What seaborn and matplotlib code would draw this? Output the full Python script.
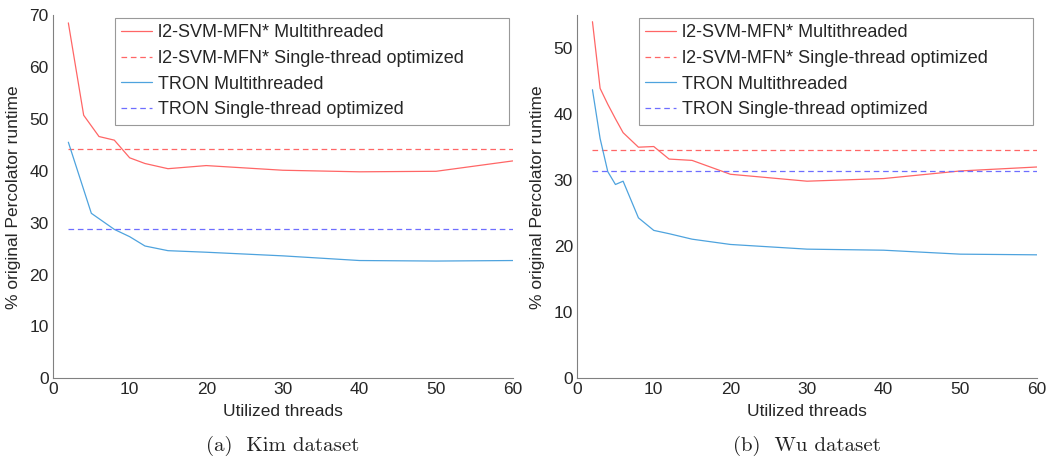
import numpy as np
import pandas as pd
import matplotlib
matplotlib.use("Agg")
import matplotlib.pyplot as plt
import seaborn as sns

# Kim dataset
kim_l2_threads = [2, 4, 6, 8, 10, 12, 15, 20, 30, 40, 50, 60]
kim_l2_runtime = [68.5, 50.7, 46.6, 45.9, 42.5, 41.4, 40.4, 41.0, 40.1, 39.8, 39.9, 41.9]
kim_tron_threads = [2, 5, 8, 10, 12, 15, 20, 30, 40, 50, 60]
kim_tron_runtime = [45.5, 31.8, 28.7, 27.3, 25.5, 24.6, 24.3, 23.6, 22.7, 22.6, 22.7]
kim_l2_single = 44.1
kim_tron_single = 28.7

# Wu dataset
wu_threads = [2, 3, 4, 5, 6, 8, 10, 12, 15, 20, 30, 40, 50, 60]
wu_l2_runtime = [54.0, 43.9, 41.5, 39.3, 37.2, 35.0, 35.1, 33.2, 33.0, 30.9, 29.85, 30.25, 31.4, 32.0]
wu_tron_runtime = [43.7, 36.3, 31.3, 29.35, 29.85, 24.3, 22.4, 21.9, 21.07, 20.27, 19.56, 19.4, 18.8, 18.7]
wu_l2_single = 34.6
wu_tron_single = 31.4

labels = ["l2-SVM-MFN* Multithreaded", "l2-SVM-MFN* Single-thread optimized",
          "TRON Multithreaded", "TRON Single-thread optimized"]
captions = ["(a)  Kim dataset", "(b)  Wu dataset"]

RED = "#ff6666"
BLUE = "#4ea3de"
BLUE_DASH = "#6e6eff"
AX_GRAY = "#808080"
DASH = [4.5, 3]

sns.set_style("white")
plt.rcParams["font.family"] = ["Liberation Sans", "DejaVu Sans"]
plt.rcParams["font.size"] = 12


def draw_panel(ax, l2_x, l2_y, tron_x, tron_y, l2_single, tron_single, ymax, caption):
    x_lo = min(l2_x[0], tron_x[0])
    x_hi = max(l2_x[-1], tron_x[-1])
    sns.lineplot(x=l2_x, y=l2_y, ax=ax, color=RED, lw=0.9, label=labels[0])
    sns.lineplot(x=[x_lo, x_hi], y=[l2_single, l2_single], ax=ax, color=RED,
                 lw=0.9, label=labels[1]).lines[-1].set_dashes(DASH)
    sns.lineplot(x=tron_x, y=tron_y, ax=ax, color=BLUE, lw=0.9, label=labels[2])
    sns.lineplot(x=[x_lo, x_hi], y=[tron_single, tron_single], ax=ax, color=BLUE_DASH,
                 lw=0.9, label=labels[3]).lines[-1].set_dashes(DASH)
    ax.set_xlim(0, 60)
    ax.set_ylim(0, ymax)
    ax.set_xticks(range(0, 61, 10))
    ax.set_yticks(range(0, int(ymax) + 1, 10))
    ax.set_xlabel("Utilized threads", fontsize=12.5, color="#262626", labelpad=5)
    ax.set_ylabel("% original Percolator runtime", fontsize=12.5, color="#262626", labelpad=6)
    for side in ["top", "right"]:
        ax.spines[side].set_visible(False)
    for side in ["left", "bottom"]:
        ax.spines[side].set_color(AX_GRAY)
        ax.spines[side].set_linewidth(0.8)
    ax.tick_params(direction="in", length=4, width=0.8, color=AX_GRAY,
                   labelsize=12.5, labelcolor="#262626", pad=3)
    leg = ax.legend(loc="upper left", bbox_to_anchor=(0.134, 0.0, 0.857, 0.992),
                    mode="expand", frameon=True, fancybox=False, fontsize=13,
                    handlelength=1.7, handletextpad=0.35, borderpad=0.35,
                    labelspacing=0.48, borderaxespad=0.0)
    leg.get_frame().set_edgecolor(AX_GRAY)
    leg.get_frame().set_linewidth(0.8)
    for h in leg.get_lines()[1::2]:
        h.set_dashes(DASH)
    ax.text(0.5, -0.185, caption, transform=ax.transAxes, ha="center", va="center",
            fontsize=15, family=["cmr10", "DejaVu Serif"], color="#222222")


fig, axes = plt.subplots(1, 2, figsize=(10.5, 4.58), dpi=100)
fig.subplots_adjust(left=0.0505, right=0.9875, top=0.967, bottom=0.174, wspace=0.14)

draw_panel(axes[0], kim_l2_threads, kim_l2_runtime, kim_tron_threads, kim_tron_runtime,
           kim_l2_single, kim_tron_single, 70, captions[0])
draw_panel(axes[1], wu_threads, wu_l2_runtime, wu_threads, wu_tron_runtime,
           wu_l2_single, wu_tron_single, 55, captions[1])

fig.savefig("out.png", dpi=100)
